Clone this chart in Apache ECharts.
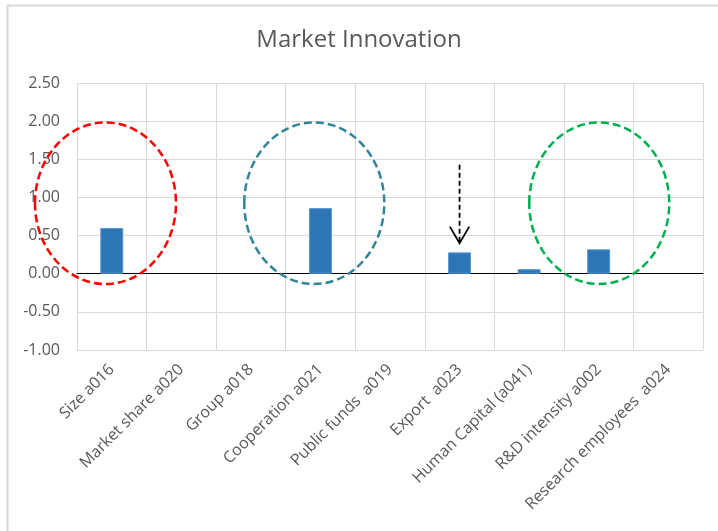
<!DOCTYPE html>
<html>
<head>
<meta charset="utf-8">
<script src="https://cdn.jsdelivr.net/npm/echarts@6/dist/echarts.min.js"></script>
<style>html,body{margin:0;padding:0;background:#fff;}#c{width:718px;height:531px;}</style>
</head>
<body>
<div id="c"></div>
<script>
const categories = ['Size a016', 'Market share a020', 'Group a018', 'Cooperation a021', 'Public funds  a019', 'Export  a023', 'Human Capital (a041)', 'R&D intensity a002', 'Research employees  a024'];
const values = [0.60, 0, 0, 0.86, 0, 0.28, 0.06, 0.32, 0];
const yTicks = { min: -1, max: 2.5, interval: 0.5 };

// annotation ellipses: [left, right] in category-boundary units, [top, bottom] in values
const ellipses = [
  { x: [-0.604, 1.423], y: [1.983, -0.135], color: '#FF0000' },
  { x: [2.405, 4.418], y: [1.983, -0.135], color: '#31849B' },
  { x: [6.502, 8.515], y: [1.983, -0.135], color: '#00B050' }
];
const arrow = { cat: 5, from: 1.43, to: 0.40 };

const FONT = 'Open Sans';
const chart = echarts.init(document.getElementById('c'));
chart.setOption({
  animation: false,
  backgroundColor: '#fff',
  title: {
    text: 'Market Innovation', left: 'center', top: 23,
    textStyle: { fontFamily: FONT, fontSize: 24, fontWeight: 'normal', color: '#595959' }
  },
  grid: { left: 77, right: 15, top: 83, bottom: 181, containLabel: false },
  xAxis: {
    type: 'category', data: categories,
    axisLine: { onZero: true, lineStyle: { color: '#000', width: 1 } },
    axisTick: { show: false },
    splitLine: { show: true, lineStyle: { color: '#d9d9d9', width: 1 } },
    axisLabel: { interval: 0, rotate: 45, margin: 17, color: '#595959', fontFamily: FONT, fontSize: 16 }
  },
  yAxis: {
    type: 'value', min: yTicks.min, max: yTicks.max, interval: yTicks.interval,
    axisLine: { show: false }, axisTick: { show: false },
    splitLine: { lineStyle: { color: '#d9d9d9', width: 1 } },
    axisLabel: { formatter: v => v.toFixed(2), margin: 17, color: '#595959', fontFamily: FONT, fontSize: 16 }
  },
  series: [{
    type: 'bar', barWidth: 23,
    data: values.map(v => ({ value: v, itemStyle: v === 0 ? { borderWidth: 0 } : {} })),
    itemStyle: { color: '#2E75B6', borderColor: '#5B9BD5', borderWidth: 1 }
  }]
});

function px(c) {
  const p0 = chart.convertToPixel({ xAxisIndex: 0 }, 0);
  const p1 = chart.convertToPixel({ xAxisIndex: 0 }, 1);
  const bw = p1 - p0;
  return p0 + (c - 0.5) * bw;
}
function py(v) { return chart.convertToPixel({ yAxisIndex: 0 }, v); }

const g = [{
  type: 'rect', shape: { x: 7.5, y: 5.5, width: 800, height: 600 },
  style: { fill: 'none', stroke: '#d9d9d9', lineWidth: 2 }, silent: true, z: 0
}];
ellipses.forEach(e => {
  const x0 = px(e.x[0]), x1 = px(e.x[1]), y0 = py(e.y[0]), y1 = py(e.y[1]);
  g.push({
    type: 'ellipse',
    shape: { cx: (x0 + x1) / 2, cy: (y0 + y1) / 2, rx: (x1 - x0) / 2, ry: (y1 - y0) / 2 },
    style: { fill: 'none', stroke: e.color, lineWidth: 2.5, lineDash: [8, 4] },
    silent: true, z: 100
  });
});
const ax = chart.convertToPixel({ xAxisIndex: 0 }, arrow.cat);
const ay0 = py(arrow.from), ay1 = py(arrow.to);
g.push({
  type: 'line', shape: { x1: ax, y1: ay0, x2: ax, y2: ay1 },
  style: { stroke: '#000', lineWidth: 1.8, lineDash: [5, 3] }, silent: true, z: 100
});
g.push({
  type: 'polyline', shape: { points: [[ax - 9.7, ay1 - 16.6], [ax, ay1], [ax + 9.7, ay1 - 16.6]] },
  style: { fill: 'none', stroke: '#000', lineWidth: 1.8 }, silent: true, z: 100
});
chart.setOption({ graphic: g });
</script>
</body>
</html>
